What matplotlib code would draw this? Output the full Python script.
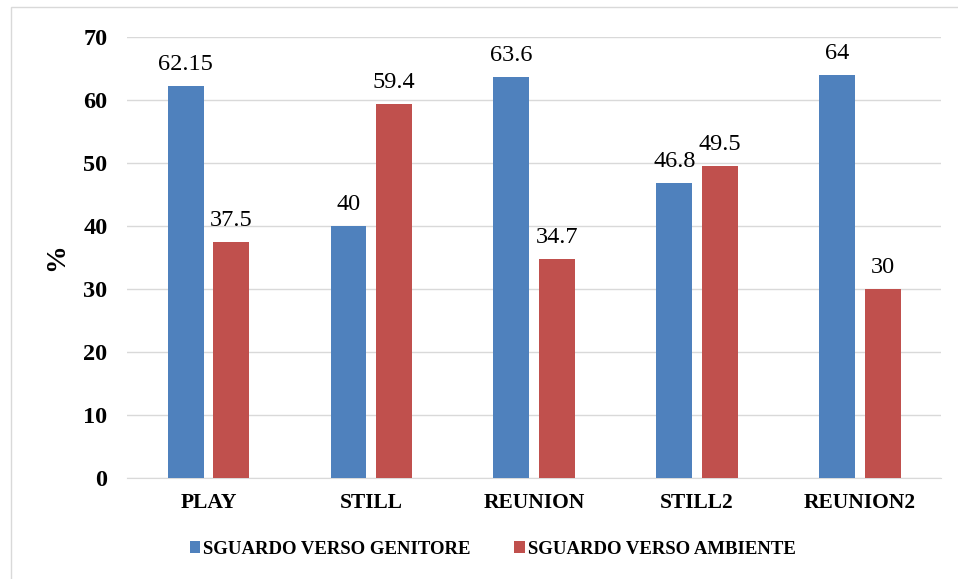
import numpy as np
import matplotlib
matplotlib.use("Agg")
from matplotlib import pyplot as plt
from matplotlib.patches import Rectangle

categories = ["PLAY", "STILL", "REUNION", "STILL2", "REUNION2"]
genitore = [62.15, 40, 63.6, 46.8, 64]
ambiente = [37.5, 59.4, 34.7, 49.5, 30]
labels_genitore = ["62.15", "40", "63.6", "46.8", "64"]
labels_ambiente = ["37.5", "59.4", "34.7", "49.5", "30"]

plt.rcParams['font.family'] = ['Liberation Serif', 'DejaVu Serif']

blue = '#4f81bd'
red = '#c0504d'

fig = plt.figure(figsize=(9.58, 5.79), dpi=100)
ax = fig.add_axes([0.1326, 0.1744, 0.850, 0.7617])

x = np.arange(len(categories))
w = 0.22
off = 0.14
b1 = ax.bar(x - off, genitore, w, color=blue, label='SGUARDO VERSO GENITORE', zorder=3)
b2 = ax.bar(x + off, ambiente, w, color=red, label='SGUARDO VERSO AMBIENTE', zorder=3)

for bars, labs in ((b1, labels_genitore), (b2, labels_ambiente)):
    for rect, lab in zip(bars, labs):
        ax.annotate(lab, (rect.get_x() + rect.get_width() / 2, rect.get_height()),
                    xytext=(0, 8), textcoords='offset points',
                    ha='center', va='bottom', fontsize=17.5)

ax.set_xlim(-0.5, len(categories) - 0.5)
ax.set_ylim(0, 70)
ax.set_yticks(range(0, 71, 10))
ax.set_xticks(x)
ax.set_xticklabels(categories, fontsize=15.5, fontweight='bold')
for t in ax.get_yticklabels():
    t.set_fontsize(17.5)
    t.set_fontweight('bold')
ax.tick_params(axis='both', length=0)
ax.tick_params(axis='y', pad=14)
ax.tick_params(axis='x', pad=11)
ax.grid(axis='y', color='#d9d9d9', linewidth=1, zorder=0)
for s in ['top', 'right', 'left']:
    ax.spines[s].set_visible(False)
ax.spines['bottom'].set_color('#d9d9d9')
ax.set_ylabel('%', fontsize=20, fontweight='bold', labelpad=10)

ax.legend(loc='center', bbox_to_anchor=(0.449, -0.161), ncol=2, frameon=False,
          prop={'size': 13.5, 'weight': 'bold'}, handlelength=0.55, handleheight=0.55,
          handletextpad=0.15, columnspacing=2.35)

fig.patches.append(Rectangle((0.011, -0.1), 1.2, 1.088, transform=fig.transFigure,
                             fill=False, edgecolor='#d9d9d9', linewidth=1))

fig.savefig('out.png', dpi=100)
